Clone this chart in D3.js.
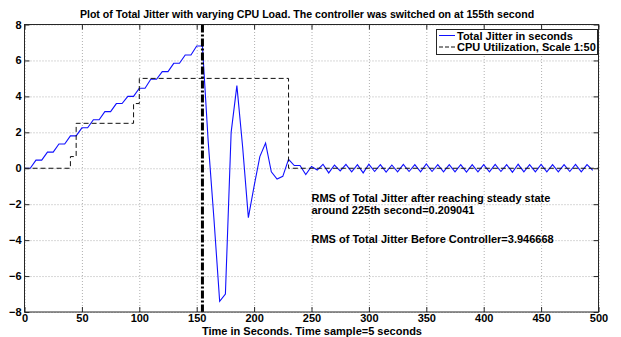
<!DOCTYPE html>
<html>
<head>
<meta charset="utf-8">
<script src="https://cdn.jsdelivr.net/npm/d3@7"></script>
<style>
  html, body { margin: 0; padding: 0; background: #fff; }
  svg { display: block; font-family: "Liberation Sans", Arial, sans-serif; }
</style>
</head>
<body>
<svg id="chart" width="621" height="337"></svg>
<script>
// ---- data ----
const titleText = "Plot of Total Jitter with varying CPU Load. The controller was switched on at 155th second";
const xAxisTitle = "Time in Seconds. Time sample=5 seconds";
const xTicks = [0, 50, 100, 150, 200, 250, 300, 350, 400, 450, 500];
const yTicks = [-8, -6, -4, -2, 0, 2, 4, 6, 8];
const sampleStep = 5; // seconds per sample
const jitterValues = [
  0, 0, 0.45, 0.45, 0.9, 0.9, 1.35, 1.35, 1.8, 1.8,
  2.25, 2.25, 2.7, 2.7, 3.15, 3.15, 3.6, 3.6, 4.0, 4.0,
  4.45, 4.45, 4.95, 4.95, 5.38, 5.38, 5.84, 5.84, 6.3, 6.3,
  6.8, 6.8,
  1.5, -2.8, -7.4, -7.0, 2.0, 4.6, 1.2, -2.75, -1.0, 0.65,
  1.4, -0.2, -0.6, -0.45, 0.5, 0.15, 0.15, -0.35,
  0.1, -0.1, 0.22, -0.26, 0.18, -0.15, 0.22, -0.2, 0.2, -0.26,
  0.22, -0.18, 0.2, -0.22, 0.18, -0.2, 0.22, -0.18, 0.2, -0.2,
  0.24, -0.18, 0.2, -0.2, 0.2, -0.2, 0.2, -0.22, 0.2, -0.2,
  0.2, -0.2, 0.22, -0.18, 0.2, -0.22, 0.22, -0.2, 0.2, -0.2,
  0.22, -0.2, 0.2, -0.2, 0.2, -0.18, 0.22, -0.2, 0.2, -0.12
];
const cpuTimes  = [0, 40, 45, 95, 100, 230, 500];
const cpuValues = [0, 0.65, 2.5, 3.6, 5, 0, 0];
const controllerTime = 155;
const legendLabels = ["Total Jitter in seconds", "CPU Utilization, Scale 1:50"];
const annotations = [
  "RMS of Total Jitter after reaching steady state",
  "around 225th second=0.209041",
  "RMS of Total Jitter Before Controller=3.946668"
];

// ---- layout ----
const svg = d3.select("#chart");
const L = 24.5, R = 598.5, T = 24.5, B = 312;
const x = d3.scaleLinear().domain([0, 500]).range([L, R]);
const y = d3.scaleLinear().domain([-8, 8]).range([B, T]);
const W = R - L, H = B - T;
const tickLen = 5;
const axisColor = "#262626";

svg.append("rect").attr("x", L).attr("y", T).attr("width", W).attr("height", H).attr("fill", "#fff");

// grid
const grid = svg.append("g");
grid.append("g").attr("transform", `translate(0,${B})`)
  .call(d3.axisBottom(x).tickValues(xTicks).tickSize(-H).tickFormat(""))
  .call(g => g.select(".domain").remove())
  .selectAll("line").attr("stroke", "#b0b0b0").attr("stroke-dasharray", "1,2");
grid.append("g").attr("transform", `translate(${L},0)`)
  .call(d3.axisLeft(y).tickValues(yTicks).tickSize(-W).tickFormat(""))
  .call(g => g.select(".domain").remove())
  .selectAll("line").attr("stroke", "#b0b0b0").attr("stroke-dasharray", "1,2");

// series
const jitterData = jitterValues.map((v, i) => ({t: i * sampleStep, v}));
const line = d3.line().x(d => x(d.t)).y(d => y(d.v));
svg.append("path").datum(jitterData).attr("d", line)
  .attr("fill", "none").attr("stroke", "#1010ff").attr("stroke-width", 1.1);

const cpuData = cpuTimes.map((t, i) => ({t, v: cpuValues[i]}));
const stepLine = d3.line().x(d => x(d.t)).y(d => y(d.v)).curve(d3.curveStepAfter);
svg.append("path").datum(cpuData).attr("d", stepLine)
  .attr("fill", "none").attr("stroke", "#111").attr("stroke-width", 1)
  .attr("stroke-dasharray", "5,3");

// controller vertical line
svg.append("line")
  .attr("x1", x(controllerTime)).attr("x2", x(controllerTime))
  .attr("y1", y(8)).attr("y2", y(-8))
  .attr("stroke", "#000").attr("stroke-width", 3)
  .attr("stroke-dasharray", "8,2,2,2");

// axes (ticks inward on all sides)
function styleAxis(g) {
  g.select(".domain").remove();
  g.selectAll("line").attr("stroke", axisColor);
}
svg.append("g").attr("transform", `translate(0,${B})`)
  .call(d3.axisBottom(x).tickValues(xTicks).tickSize(-tickLen).tickPadding(2).tickFormat(d3.format("d")))
  .call(styleAxis)
  .selectAll("text").attr("font-size", "11px").attr("font-weight", "bold").attr("fill", "#000")
  .attr("font-family", "Liberation Sans, Arial, sans-serif");
svg.append("g").attr("transform", `translate(0,${T})`)
  .call(d3.axisTop(x).tickValues(xTicks).tickSize(-tickLen).tickFormat(""))
  .call(styleAxis);
svg.append("g").attr("transform", `translate(${L},0)`)
  .call(d3.axisLeft(y).tickValues(yTicks).tickSize(-tickLen).tickPadding(3).tickFormat(d3.format("d")))
  .call(styleAxis)
  .selectAll("text").attr("font-size", "11px").attr("font-weight", "bold").attr("fill", "#000")
  .attr("font-family", "Liberation Sans, Arial, sans-serif");
svg.append("g").attr("transform", `translate(${R},0)`)
  .call(d3.axisRight(y).tickValues(yTicks).tickSize(-tickLen).tickFormat(""))
  .call(styleAxis);

svg.append("rect").attr("x", L).attr("y", T).attr("width", W).attr("height", H)
  .attr("fill", "none").attr("stroke", axisColor).attr("stroke-width", 1);

// title & axis label
svg.append("text").attr("x", 307).attr("y", 17.5).attr("text-anchor", "middle")
  .attr("font-size", "10.6px").attr("font-weight", "bold").text(titleText);
svg.append("text").attr("x", 312).attr("y", 335).attr("text-anchor", "middle")
  .attr("font-size", "11px").attr("font-weight", "bold").text(xAxisTitle);

// annotations
const annY = [201.5, 214, 243];
annotations.forEach((s, i) => {
  svg.append("text").attr("x", 311.5).attr("y", annY[i])
    .attr("font-size", "11px").attr("font-weight", "bold").text(s);
});

// legend
const lg = svg.append("g");
lg.append("rect").attr("x", 436.5).attr("y", 29.5).attr("width", 161).attr("height", 25)
  .attr("fill", "#fff").attr("stroke", axisColor).attr("stroke-width", 1);
const legendStyles = [
  {stroke: "#1010ff", dash: null},
  {stroke: "#111", dash: "4,2"}
];
const legendRowY = [35.5, 47];
legendLabels.forEach((s, i) => {
  lg.append("line").attr("x1", 439).attr("x2", 455).attr("y1", legendRowY[i]).attr("y2", legendRowY[i])
    .attr("stroke", legendStyles[i].stroke).attr("stroke-width", 1)
    .attr("stroke-dasharray", legendStyles[i].dash);
  lg.append("text").attr("x", 457).attr("y", legendRowY[i] + 4)
    .attr("font-size", "11px").attr("font-weight", "bold").text(s);
});
</script>
</body>
</html>
